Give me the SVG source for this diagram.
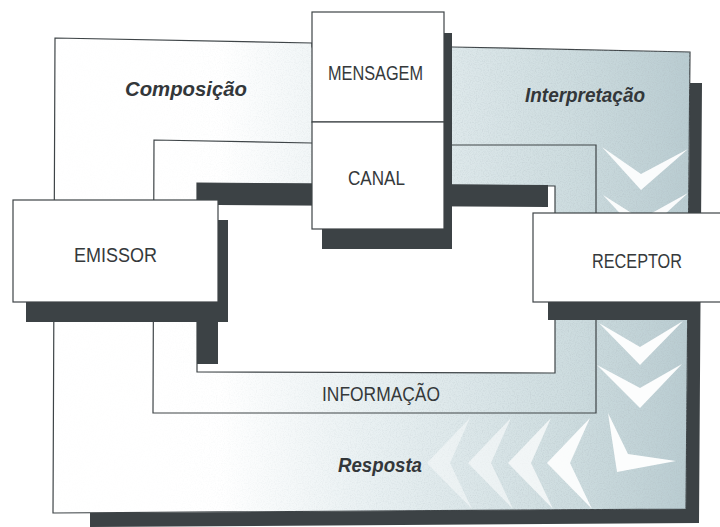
<svg xmlns="http://www.w3.org/2000/svg" width="720" height="527" viewBox="0 0 720 527">
  <defs>
    <linearGradient id="shade" gradientUnits="userSpaceOnUse" x1="220" y1="0" x2="690" y2="0">
      <stop offset="0" stop-color="#ffffff"/>
      <stop offset="0.35" stop-color="#e7eff1"/>
      <stop offset="0.75" stop-color="#cddcdf"/>
      <stop offset="1" stop-color="#b9ccd1"/>
    </linearGradient>
    <filter id="grain" x="0" y="0" width="100%" height="100%">
      <feTurbulence type="fractalNoise" baseFrequency="0.85" numOctaves="2" seed="3" result="n"/>
      <feColorMatrix in="n" type="matrix" values="0 0 0 0 0.45  0 0 0 0 0.52  0 0 0 0 0.55  2.2 0 0 0 -0.95"/>
    </filter>
    <clipPath id="outerClip">
      <polygon points="55,38 312,43 312,47 452,47 690,52 686,509 53,513"/>
    </clipPath>
    <linearGradient id="fadeMask" gradientUnits="userSpaceOnUse" x1="150" y1="0" x2="690" y2="0">
      <stop offset="0" stop-color="#fff" stop-opacity="0.05"/>
      <stop offset="1" stop-color="#fff" stop-opacity="1"/>
    </linearGradient>
    <mask id="grainMask">
      <rect x="0" y="0" width="720" height="527" fill="url(#fadeMask)"/>
    </mask>
  </defs>
  <style>
    .frame { fill: none; stroke: #3e4447; stroke-width: 1.2; }
    .box { fill: #ffffff; stroke: #3e4447; stroke-width: 1.2; }
    .shadow { fill: #3c4245; }
    .chev { fill: #ffffff; }
    .lbl { font-family: "Liberation Sans", Arial, sans-serif; font-size: 20px; fill: #35393b; }
    .ital { font-family: "Liberation Sans", Arial, sans-serif; font-size: 20px; font-weight: bold; font-style: italic; fill: #33373a; }
  </style>

  <!-- outer shadow -->
  <polygon class="shadow" points="690,83 702,83 699,523 90,527 90,513 686,509"/>

  <g id="connectors">
    <!-- outer band -->
    <polygon points="55,38 312,43 312,47 452,47 690,52 686,509 53,513" fill="url(#shade)" stroke="#3e4447" stroke-width="1.2"/>
    <g clip-path="url(#outerClip)" mask="url(#grainMask)" opacity="0.5">
      <rect x="0" y="0" width="720" height="527" filter="url(#grain)"/>
    </g>

    <!-- chevrons down right column -->
    <polygon class="chev" points="602,147 641,190 688,149 641,174" opacity="0.92"/>
    <polygon class="chev" points="603,195 641,236 688,193 641,219" opacity="0.92"/>
    <polygon class="chev" points="599,323 640,365 683,321 640,347" opacity="0.95"/>
    <polygon class="chev" points="597,365 640,408 682,364 640,388" opacity="0.95"/>
    <!-- corner chevron -->
    <polygon class="chev" points="608,413 617,472 676,461 628,454" opacity="0.95"/>
    <!-- leftward chevrons -->
    <polygon class="chev" points="590,418 547,463 592,509 570,463" opacity="0.9"/>
    <polygon class="chev" points="551,418 508,463 553,509 531,463" opacity="0.7"/>
    <polygon class="chev" points="511,418 468,463 513,509 491,463" opacity="0.55"/>
    <polygon class="chev" points="470,418 427,463 472,509 450,463" opacity="0.45"/>

    <!-- inner frame -->
    <path class="frame" d="M312,143 L154,140 L153,413 L596,413 L596,145 L452,145"/>

    <!-- inner hole -->
    <polygon class="box" points="197,183 555,186 555,373 197,372"/>
    <polygon class="shadow" points="197,183 548,185 548,207 218,205 218,364 197,364"/>
  </g>

  <g id="node-emissor">
    <rect class="shadow" x="26" y="220" width="202" height="102"/>
    <rect class="box" x="13" y="200" width="205" height="102"/>
    <text class="lbl" x="74" y="262" textLength="83" lengthAdjust="spacingAndGlyphs">EMISSOR</text>
  </g>

  <g id="node-mensagem-canal-shadow">
    <rect class="shadow" x="322" y="33" width="130" height="216"/>
  </g>
  <g id="node-mensagem">
    <rect class="box" x="312" y="12" width="132" height="110"/>
    <text class="lbl" x="328" y="80" textLength="95" lengthAdjust="spacingAndGlyphs">MENSAGEM</text>
  </g>
  <g id="node-canal">
    <rect class="box" x="312" y="122" width="132" height="107"/>
    <text class="lbl" x="348" y="185" textLength="57" lengthAdjust="spacingAndGlyphs">CANAL</text>
  </g>

  <g id="node-receptor">
    <rect class="shadow" x="548" y="290" width="152" height="30"/>
    <rect class="box" x="533" y="213" width="200" height="89"/>
    <text class="lbl" x="592" y="268" textLength="90" lengthAdjust="spacingAndGlyphs">RECEPTOR</text>
  </g>

  <g id="labels">
    <text class="lbl" x="322" y="401" textLength="118" lengthAdjust="spacingAndGlyphs">INFORMAÇÃO</text>
    <text class="ital" x="125" y="96" textLength="122" lengthAdjust="spacingAndGlyphs">Composição</text>
    <text class="ital" x="525" y="102" textLength="120" lengthAdjust="spacingAndGlyphs">Interpretação</text>
    <text class="ital" x="338" y="472" textLength="84" lengthAdjust="spacingAndGlyphs">Resposta</text>
  </g>
</svg>
